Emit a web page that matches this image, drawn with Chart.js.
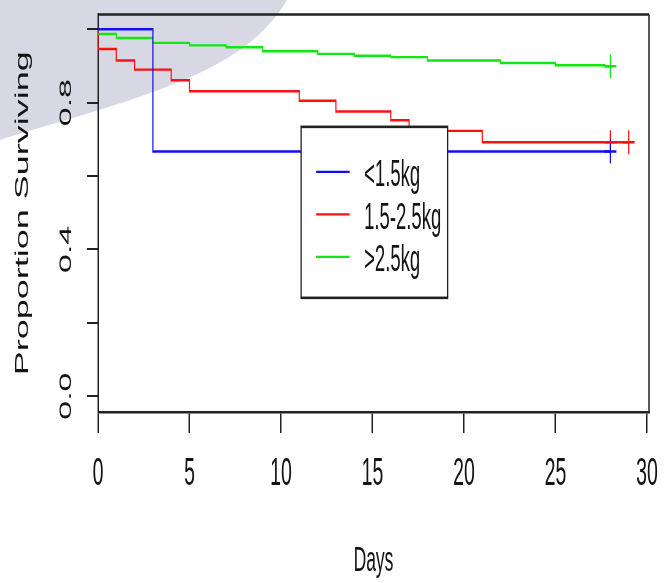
<!DOCTYPE html>
<html>
<head>
<meta charset="utf-8">
<title>Proportion Surviving by birth weight</title>
<script src="https://cdn.jsdelivr.net/npm/chart.js@4.4.1/dist/chart.umd.min.js"></script>
<style>
  html, body { margin: 0; padding: 0; background: #fff; overflow: hidden; }
  #frame { position: relative; width: 672px; height: 583px; overflow: hidden; }
  /* the plot is laid out on a wide canvas and squeezed horizontally */
  #km { position: absolute; left: 0; top: 0; transform-origin: 0 0; transform: scaleX(0.5); }
</style>
</head>
<body>
<div id="frame"><canvas id="km" width="1344" height="583"></canvas></div>
<script>
// Kaplan-Meier survival steps per birth-weight group (day, proportion surviving)
const groupLabels = ['<1.5kg', '1.5-2.5kg', '>2.5kg'];
const groupColors = ['#1010f0', '#ff1010', '#10e810'];

const lowDays  = [0, 3, 28];
const lowSurv  = [1.000, 0.667, 0.667];

const midDays  = [0, 0, 1, 2, 4, 5, 11, 13, 16, 17, 21, 29];
const midSurv  = [1.000, 0.946, 0.915, 0.890, 0.861, 0.831, 0.805, 0.776, 0.752, 0.723, 0.692, 0.692];

const highDays = [0, 0, 1, 3, 5, 7, 9, 12, 14, 16, 18, 22, 25, 27.7, 28];
const highSurv = [1.000, 0.987, 0.976, 0.963, 0.956, 0.951, 0.940, 0.933, 0.928, 0.924, 0.915, 0.908, 0.902, 0.899, 0.899];

// censored follow-up times
const lowCensor  = [28];
const midCensor  = [28, 29];
const highCensor = [28];

// axis ticks
const xTicks = [0, 5, 10, 15, 20, 25, 30];
const yTicks = [0.0, 0.2, 0.4, 0.6, 0.8, 1.0];
const yTickLabels = ['0.0', '', '0.4', '', '0.8', ''];

const FONT = '"Liberation Sans", Arial, sans-serif';
const INK = '#141414';
const AXIS = '#222222';

function kmPoints(days, surv) {
  return days.map((d, i) => ({ x: d, y: surv[i] }));
}
function survivalAt(days, surv, t) {
  let s = surv[0];
  for (let i = 0; i < days.length; i++) if (days[i] <= t) s = surv[i];
  return s;
}

const groups = [
  { days: lowDays,  surv: lowSurv,  censor: lowCensor },
  { days: midDays,  surv: midSurv,  censor: midCensor },
  { days: highDays, surv: highSurv, censor: highCensor }
];

const datasets = [];
groups.forEach((g, i) => {
  datasets.push({
    type: 'line',
    label: groupLabels[i],
    isCurve: true,
    data: kmPoints(g.days, g.surv),
    borderColor: groupColors[i],
    borderWidth: 2.4,
    stepped: true,
    fill: false,
    pointRadius: 0,
    tension: 0
  });
});
groups.forEach((g, i) => {
  datasets.push({
    type: 'scatter',
    label: groupLabels[i] + ' censored',
    data: g.censor.map(t => ({ x: t, y: survivalAt(g.days, g.surv, t) })),
    pointStyle: 'cross',
    pointRadius: 12,
    pointBorderWidth: 2.4,
    borderColor: groupColors[i],
    backgroundColor: groupColors[i],
    showLine: false
  });
});

// pale backdrop shape in the upper-left corner
const backdrop = {
  id: 'backdrop',
  beforeDraw(chart) {
    const ctx = chart.ctx;
    ctx.save();
    ctx.fillStyle = '#ffffff';
    ctx.fillRect(0, 0, chart.width, chart.height);
    ctx.fillStyle = 'rgba(214, 214, 228, 0.95)';
    ctx.beginPath();
    ctx.moveTo(0, 0);
    ctx.lineTo(0, 140);
    ctx.bezierCurveTo(110, 122, 320, 96, 434, 64);
    ctx.quadraticCurveTo(530, 38, 574, 0);
    ctx.closePath();
    ctx.fill();
    ctx.restore();
  }
};

// closes the plot frame and draws the boxed legend
const frameAndLegend = {
  id: 'frameAndLegend',
  afterDatasetsDraw(chart) {
    const { ctx, chartArea: a, scales: { x, y } } = chart;
    ctx.save();
    ctx.strokeStyle = AXIS;
    ctx.lineWidth = 2.5;
    ctx.beginPath(); ctx.moveTo(a.left, a.top); ctx.lineTo(a.right, a.top); ctx.stroke();
    ctx.lineWidth = 3;
    ctx.beginPath(); ctx.moveTo(a.right, a.top); ctx.lineTo(a.right, a.bottom); ctx.stroke();

    const left = x.getPixelForValue(11.1);
    const top = y.getPixelForValue(0.734);
    const w = 293, h = 171;
    ctx.fillStyle = '#ffffff';
    ctx.fillRect(left, top, w, h);
    ctx.strokeStyle = AXIS;
    ctx.lineWidth = 2.6;
    ctx.strokeRect(left, top, w, h);

    const items = chart.data.datasets.filter(d => d.isCurve);
    ctx.font = '37px ' + FONT;
    ctx.textBaseline = 'middle';
    ctx.textAlign = 'left';
    items.forEach((ds, i) => {
      const yy = top + 45 + i * 42.5;
      ctx.strokeStyle = ds.borderColor;
      ctx.lineWidth = 2.4;
      ctx.beginPath(); ctx.moveTo(left + 30, yy); ctx.lineTo(left + 97, yy); ctx.stroke();
      ctx.fillStyle = INK;
      ctx.fillText(ds.label, left + 126, yy + 4);
    });
    ctx.restore();
  }
};

Chart.defaults.font.family = FONT;
Chart.defaults.color = INK;

new Chart(document.getElementById('km'), {
  type: 'line',
  data: { datasets },
  plugins: [backdrop, frameAndLegend],
  options: {
    responsive: false,
    devicePixelRatio: 1,
    animation: false,
    events: [],
    layout: { padding: { top: 11, right: 46, bottom: 0, left: 0 } },
    plugins: { legend: { display: false }, tooltip: { enabled: false } },
    scales: {
      x: {
        type: 'linear',
        min: 0,
        max: 30.11,
        afterBuildTicks: s => { s.ticks = xTicks.map(v => ({ value: v })); },
        afterFit: s => { s.height = 171; s.paddingLeft = 0; s.paddingRight = 0; },
        grid: { display: true, drawOnChartArea: false, drawTicks: true, tickLength: 21, lineWidth: 3, color: AXIS },
        border: { display: true, color: AXIS, width: 2.5 },
        ticks: { autoSkip: false, maxRotation: 0, minRotation: 0, padding: 18, color: INK, font: { size: 39 } },
        title: { display: true, text: 'Days', color: INK, font: { size: 35 }, padding: { top: 0, bottom: 1 } }
      },
      y: {
        type: 'linear',
        min: -0.0432,
        max: 1.0405,
        afterBuildTicks: s => { s.ticks = yTicks.map(v => ({ value: v })); },
        afterFit: s => { s.width = 196; s.paddingTop = 0; s.paddingBottom = 0; },
        grid: { display: true, drawOnChartArea: false, drawTicks: true, tickLength: 22, lineWidth: 2, color: AXIS },
        border: { display: true, color: AXIS, width: 3 },
        ticks: {
          autoSkip: false, minRotation: 90, maxRotation: 90, crossAlign: 'center', padding: 18,
          color: INK, font: { size: 34 },
          callback: v => { const k = yTicks.indexOf(v); return k >= 0 ? yTickLabels[k] : ''; }
        },
        title: { display: true, text: 'Proportion Surviving', color: INK, font: { size: 36 }, padding: { top: 24, bottom: 0 } }
      }
    }
  }
});
</script>
</body>
</html>
